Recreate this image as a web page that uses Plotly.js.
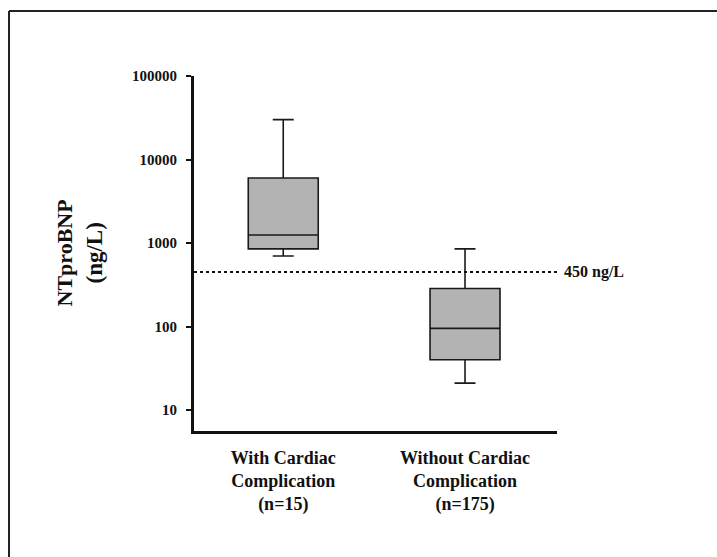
<!DOCTYPE html>
<html>
<head>
<meta charset="utf-8">
<script src="https://cdn.plot.ly/plotly-3.0.1.min.js"></script>
<style>html,body{margin:0;padding:0;background:#fff;}#chart{width:717px;height:557px;}</style>
</head>
<body>
<div id="chart"></div>
<script>
// Data
const categories = ["With Cardiac<br>Complication<br>(n=15)", "Without Cardiac<br>Complication<br>(n=175)"];
const positions = [0, 1];
const lowerWhisker = [700, 21];
const q1Values = [850, 40];
const medianValues = [1250, 95];
const q3Values = [6000, 285];
const upperWhisker = [30000, 850];
const cutoffValue = 450;
const cutoffLabel = "450 ng/L";
const yTickVals = [10, 100, 1000, 10000, 100000];
const yTickText = ["10", "100", "1000", "10000", "100000"];

const serif = "Liberation Serif, Times New Roman, serif";
const ink = "#111111";

const trace = {
  type: "box",
  x: positions,
  q1: q1Values,
  median: medianValues,
  q3: q3Values,
  lowerfence: lowerWhisker,
  upperfence: upperWhisker,
  width: 0.385,
  whiskerwidth: 0.3,
  fillcolor: "#b3b3b3",
  line: {color: "#1a1a1a", width: 1.6},
  boxpoints: false,
  showlegend: false,
  hoverinfo: "skip"
};

const layout = {
  width: 717,
  height: 557,
  margin: {l: 194, r: 160, t: 76, b: 126},
  paper_bgcolor: "#ffffff",
  plot_bgcolor: "#ffffff",
  showlegend: false,
  font: {family: serif, color: ink},
  xaxis: {
    range: [-0.491, 1.506],
    tickvals: positions,
    ticktext: categories,
    ticks: "",
    showline: true,
    linecolor: ink,
    linewidth: 3,
    showgrid: false,
    zeroline: false,
    ticklabelstandoff: 8,
    tickfont: {family: serif, size: 18, weight: "bold", color: ink}
  },
  yaxis: {
    type: "log",
    range: [0.749, 5],
    tickvals: yTickVals,
    ticktext: yTickText,
    ticks: "outside",
    ticklen: 5,
    tickwidth: 2,
    tickcolor: ink,
    showline: true,
    linecolor: ink,
    linewidth: 3,
    showgrid: false,
    zeroline: false,
    ticklabelstandoff: 6,
    tickfont: {family: serif, size: 15, weight: "bold", color: ink}
  },
  shapes: [
    {type: "line", xref: "paper", yref: "y", x0: 0, x1: 1, y0: cutoffValue, y1: cutoffValue,
     line: {color: ink, width: 2, dash: "dot"}},
    {type: "line", xref: "paper", yref: "paper", x0: -0.5096, x1: 1.5, y0: 1.183, y1: 1.183,
     line: {color: "#222222", width: 2}},
    {type: "line", xref: "paper", yref: "paper", x0: -0.5096, x1: -0.5096, y0: -0.5, y1: 1.183,
     line: {color: "#222222", width: 2}}
  ],
  annotations: [
    {xref: "paper", yref: "y", x: 1, y: Math.log10(cutoffValue), xanchor: "left", yanchor: "middle",
     xshift: 5, showarrow: false, text: cutoffLabel,
     font: {family: serif, size: 16, weight: "bold", color: ink}},
    {xref: "paper", yref: "paper", x: 0, y: 0.5, xshift: -130, xanchor: "center", yanchor: "middle",
     textangle: -90, showarrow: false, text: "NTproBNP",
     font: {family: serif, size: 22, weight: "bold", color: ink}},
    {xref: "paper", yref: "paper", x: 0, y: 0.5, xshift: -100, xanchor: "center", yanchor: "middle",
     textangle: -90, showarrow: false, text: "(ng/L)",
     font: {family: serif, size: 23, weight: "bold", color: ink}}
  ]
};

Plotly.newPlot("chart", [trace], layout, {displayModeBar: false, staticPlot: true});
</script>
</body>
</html>
